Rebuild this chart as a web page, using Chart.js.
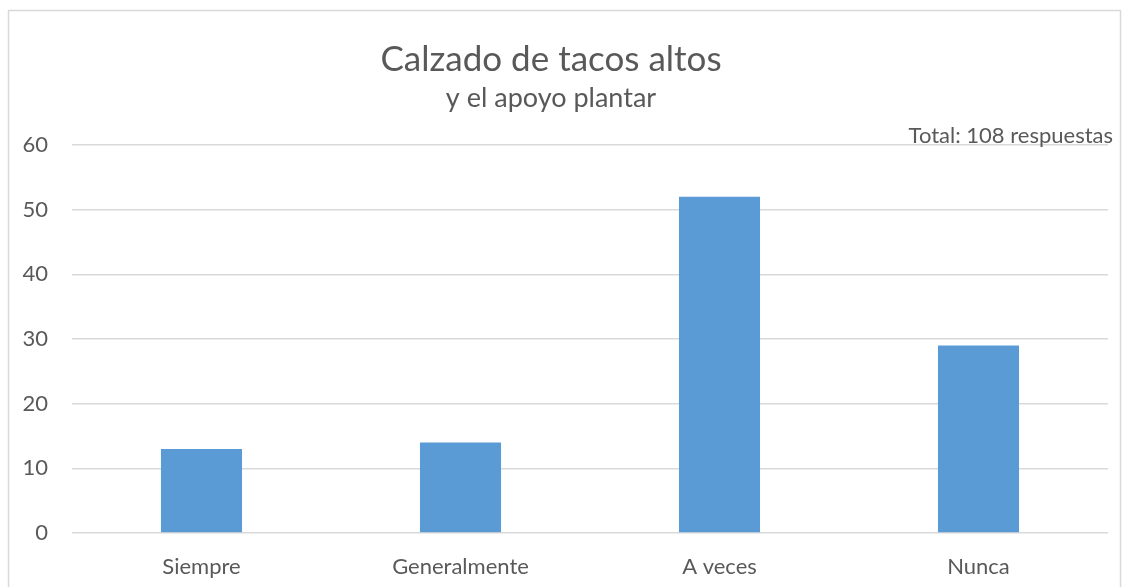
<!DOCTYPE html>
<html>
<head>
<meta charset="utf-8">
<script src="https://cdn.jsdelivr.net/npm/chart.js@4.4.1/dist/chart.umd.min.js"></script>
<style>
  html, body { margin: 0; padding: 0; background: #fff; }
  #wrap { position: relative; width: 1130px; height: 587px; }
</style>
</head>
<body>
<div id="wrap"><canvas id="tacosChart" width="1130" height="587"></canvas></div>
<script>
const categorias = ['Siempre', 'Generalmente', 'A veces', 'Nunca'];
const respuestas = [13, 14, 52, 29];
const tituloTexto = 'Calzado de tacos altos';
const subtituloTexto = 'y el apoyo plantar';
const totalTexto = 'Total: 108 respuestas';

const FUENTE = 'Lato, "Open Sans", sans-serif';
const GRIS = '#595959';

// marco, titulos y nota del total
const decoracion = {
    id: 'decoracion',
    beforeDraw(chart) {
        const ctx = chart.ctx;
        ctx.save();
        ctx.strokeStyle = '#d9d9d9';
        ctx.lineWidth = 1.5;
        ctx.strokeRect(8.5, 10.5, 1112, 600);
        ctx.restore();
    },
    afterDraw(chart) {
        const ctx = chart.ctx;
        ctx.save();
        ctx.fillStyle = GRIS;
        ctx.textBaseline = 'alphabetic';
        ctx.textAlign = 'center';
        ctx.font = '35px ' + FUENTE;
        ctx.fillText(tituloTexto, 551, 71);
        ctx.font = '27px ' + FUENTE;
        ctx.fillText(subtituloTexto, 551, 107);
        ctx.textAlign = 'right';
        ctx.font = '22px ' + FUENTE;
        ctx.fillText(totalTexto, 1113, 143);
        ctx.restore();
    }
};

new Chart(document.getElementById('tacosChart'), {
    type: 'bar',
    data: {
        labels: categorias,
        datasets: [{
            data: respuestas,
            backgroundColor: '#5B9BD5',
            borderWidth: 0,
            categoryPercentage: 1,
            barPercentage: 0.313
        }]
    },
    options: {
        responsive: false,
        animation: false,
        layout: { padding: { top: 145, right: 22, bottom: 0, left: 0 } },
        plugins: {
            legend: { display: false },
            tooltip: { enabled: false }
        },
        scales: {
            x: {
                grid: { display: false },
                border: { display: false },
                ticks: { color: GRIS, font: { family: FUENTE, size: 22 }, padding: 13 },
                afterFit(scale) { scale.height = 54; }
            },
            y: {
                min: 0,
                max: 60,
                grid: { color: '#d9d9d9', lineWidth: 1.5, drawTicks: false },
                border: { display: false },
                ticks: { stepSize: 10, color: GRIS, font: { family: FUENTE, size: 22 }, padding: 24 },
                afterFit(scale) { scale.width = 72; }
            }
        }
    },
    plugins: [decoracion]
});
</script>
</body>
</html>
